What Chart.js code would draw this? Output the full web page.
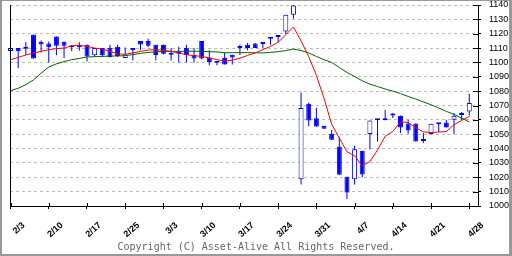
<!DOCTYPE html>
<html>
<head>
<meta charset="utf-8">
<script src="https://cdn.jsdelivr.net/npm/chart.js@4"></script>
<style>
  html, body { margin: 0; padding: 0; background: #fff; }
  #wrap { position: relative; width: 512px; height: 256px; overflow: hidden; background: #fff; }
  #c { position: absolute; left: 0; top: 0; }
  #frame { position: absolute; left: 0; top: 0; width: 512px; height: 256px; box-sizing: border-box;
           border-style: solid; border-color: #999; border-width: 1px 3px 2px 2px; pointer-events: none; }
  #copy { position: absolute; left: 0; width: 512px; top: 241px; text-align: center;
          font: 10px "DejaVu Sans Mono", monospace; color: #666; white-space: pre; }
</style>
</head>
<body>
<div id="wrap">
  <canvas id="c" width="512" height="256"></canvas>
  <div id="frame"></div>
  <div id="copy">Copyright (C) Asset-Alive All Rights Reserved.</div>
</div>
<script>
// Week-start tick labels (one every 5 trading slots)
const tickLabels = ['2/3','2/10','2/17','2/25','3/3','3/10','3/17','3/24','3/31','4/7','4/14','4/21','4/28'];

// Daily OHLC (61 sessions)
const opens = [1108,1110,1110.7,1119.3,1114.4,1113.2,1118,1114.4,1112,1112.3,
  1112.3,1105,1110,1110.2,1111,1103,1110,1115,1115,1112.3,
  1112.3,1106,1106.5,1110.2,1105.2,1115,1103.5,1100.5,1103.3,1105.4,
  1110,1112.3,1113.2,1112.8,1116.5,1117.7,1121.5,1133.2,1018.7,1071.2,
  1061.2,1055.9,1050.3,1041.5,1020.3,1018.7,1038.5,1050.1,1059.8,1059.7,
  1063,1062.9,1057.5,1057.5,1045.2,1050.1,1057.8,1058.2,1060,1063.4,1065.9];
const highs = [1110.5,1110,1114.2,1119.5,1115.3,1114.6,1118,1114.5,1112,1114,
  1112.5,1110,1110,1112.3,1112.3,1110.4,1110,1115,1116.5,1112.3,
  1112.5,1110,1111,1112.3,1110,1115,1108.4,1100.5,1106.6,1105.4,
  1112.3,1113.6,1113.5,1114.2,1117,1119.1,1133.2,1140,1079,1072,
  1068.4,1055.9,1053,1048,1020.3,1042,1038.5,1059.6,1060,1067,
  1064.7,1063,1060,1057.5,1050.8,1057.3,1057.8,1060,1064.7,1065.4,1078.2];
const lows = [1107.5,1096,1105,1102.5,1107,1100,1105,1103,1107.7,1108.2,
  1100.7,1104,1103.8,1103.5,1103.8,1103,1101.4,1108.4,1110.5,1101.4,
  1105.5,1101.4,1100,1100,1100,1102,1098,1098,1098.6,1098.6,
  1105.2,1108.4,1110,1110,1112.3,1114,1119.8,1130.5,1015,1055.5,
  1055,1053.8,1046,1021.7,1004.8,1015,1020,1039.6,1045,1059.7,
  1061.3,1050.8,1050.3,1045,1043.8,1050,1051.5,1054.7,1050.1,1060,1063];
const closes = [1110,1107.7,1109.5,1102.8,1112.5,1110.5,1111.6,1111.6,1110.5,1110.5,
  1104.2,1110,1105,1103.8,1104.5,1105.6,1108.4,1112.5,1111.6,1105.2,
  1106,1105.3,1106,1105.2,1102.8,1102.8,1100.3,1099.8,1098.6,1103.5,
  1110.3,1110,1110,1114.2,1117,1119.1,1133.2,1139.7,1068.2,1059.6,
  1055.4,1053.8,1046.1,1021.7,1009.4,1039.6,1022,1059.6,1060,1060,
  1063.2,1054.7,1052.6,1045,1045.4,1057.3,1057,1054.7,1062.9,1063.6,1071.7];

// Short moving average (red)
const maShort = [1101.9,1103.5,1105.2,1106.6,1107.7,1108.9,1109.6,1110,1111.6,1111.9,
  1111.2,1110,1109.3,1107.7,1105.9,1105.7,1106.6,1107.7,1108.6,1108.9,
  1108.4,1107.7,1106.6,1105.4,1104.7,1104.2,1103.1,1101.9,1101,1101.5,
  1103,1104.9,1106.6,1108.9,1111.2,1114,1119.3,1124.7,1115,1104,
  1091,1075,1057,1047.3,1037.8,1035,1028,1031,1039,1048.6,
  1052,1058.5,1058.2,1054.5,1051.6,1051.2,1051.5,1051.9,1056.6,1059.6,1062.4];
// Long moving average (green)
const maLong = [1080.3,1082,1084.5,1087.8,1092.5,1096.8,1099,1100.6,1101.9,1102.8,
  1103.8,1104,1104.2,1104.4,1104.5,1104.7,1105.5,1106.3,1107,1107.3,
  1107.7,1107.7,1107.7,1107.8,1107.8,1107.7,1107.5,1107.3,1106.8,1106.8,
  1106.8,1106.8,1106.7,1106.6,1107,1107.5,1108.2,1109.3,1108.3,1106.6,
  1104.2,1101.9,1100,1096.5,1093,1090.2,1087.2,1084.9,1083.2,1081.5,
  1080,1078.3,1076.3,1074.5,1072.5,1070.5,1068.3,1065.9,1063.8,1061.3,1058.6];

const BLUE = '#0000ff';
const idx = closes.map((_, i) => i);
const wickData = idx.map(i => ({x: i, y: [lows[i], highs[i]]}));
const bodyData = idx.map(i => ({x: i, y: [Math.min(opens[i], closes[i]), Math.max(opens[i], closes[i])]}));
const bodyFill = idx.map(i => closes[i] >= opens[i] ? '#ffffff' : BLUE);

const frame = {
  id: 'frame',
  afterDraw(chart) {
    const {ctx, chartArea: a, scales: {x, y}} = chart;
    ctx.save();
    ctx.strokeStyle = '#000';
    ctx.lineWidth = 1;
    ctx.beginPath();
    const lx = Math.round(a.left) + 0.5;
    ctx.moveTo(lx, a.top); ctx.lineTo(lx, a.bottom);
    y.ticks.forEach(t => {
      const py = Math.round(y.getPixelForValue(t.value)) + 0.5;
      ctx.moveTo(a.right - 5, py); ctx.lineTo(a.right, py);
    });
    x.ticks.forEach(t => {
      const px = Math.round(x.getPixelForValue(t.value)) + 0.5;
      ctx.moveTo(px, a.bottom - 3); ctx.lineTo(px, a.bottom);
    });
    ctx.stroke();
    ctx.restore();
  }
};

new Chart(document.getElementById('c'), {
  type: 'bar',
  data: {
    datasets: [
      { type: 'line', label: 'MA short', data: idx.map(i => ({x: i, y: maShort[i]})),
        borderColor: '#ff0000', borderWidth: 1, pointRadius: 0, tension: 0, fill: false, order: 0 },
      { type: 'line', label: 'MA long', data: idx.map(i => ({x: i, y: maLong[i]})),
        borderColor: '#006400', borderWidth: 1, pointRadius: 0, tension: 0, fill: false, order: 1 },
      { label: 'body', data: bodyData, backgroundColor: bodyFill, borderColor: BLUE, borderWidth: 1,
        borderSkipped: false, barThickness: 5, grouped: false, minBarLength: 2, inflateAmount: 0,
        clip: false, order: 2 },
      { label: 'wick', data: wickData, backgroundColor: BLUE, borderWidth: 0,
        barThickness: 1, grouped: false, inflateAmount: 0, clip: false, order: 3 }
    ]
  },
  options: {
    responsive: false,
    animation: false,
    events: [],
    layout: { padding: { left: 10, top: 5, right: 0, bottom: 0 } },
    plugins: { legend: { display: false }, tooltip: { enabled: false } },
    scales: {
      x: {
        type: 'linear', position: 'bottom', min: -0.07, max: 61.14, offset: false,
        afterBuildTicks: s => { s.ticks = tickLabels.map((_, k) => ({value: k * 5})); },
        afterFit: s => { s.height = 50; s.paddingLeft = 0; s.paddingRight = 0; },
        grid: { display: true, offset: false, drawOnChartArea: false, drawTicks: true, tickLength: 3, tickColor: '#000' },
        border: { display: true, color: '#000', width: 1 },
        ticks: {
          autoSkip: false, minRotation: 42, maxRotation: 42, padding: 11, labelOffset: 13,
          color: '#000', font: { family: 'Liberation Sans', size: 9, weight: 'bold' },
          callback: (v) => tickLabels[Math.round(v / 5)]
        }
      },
      y: {
        type: 'linear', position: 'right', min: 1000, max: 1140,
        afterFit: s => { s.width = 34; s.paddingTop = 0; s.paddingBottom = 0; },
        grid: { color: '#bbbbbb', lineWidth: 1, tickLength: 3, tickColor: '#000', tickBorderDash: [] },
        border: { display: true, color: '#000', width: 1, dash: [3, 3] },
        ticks: { stepSize: 10, padding: 8, color: '#000',
                 font: { family: 'Liberation Sans', size: 9 },
                 callback: (v) => String(v) }
      }
    }
  },
  plugins: [frame]
});
</script>
</body>
</html>
